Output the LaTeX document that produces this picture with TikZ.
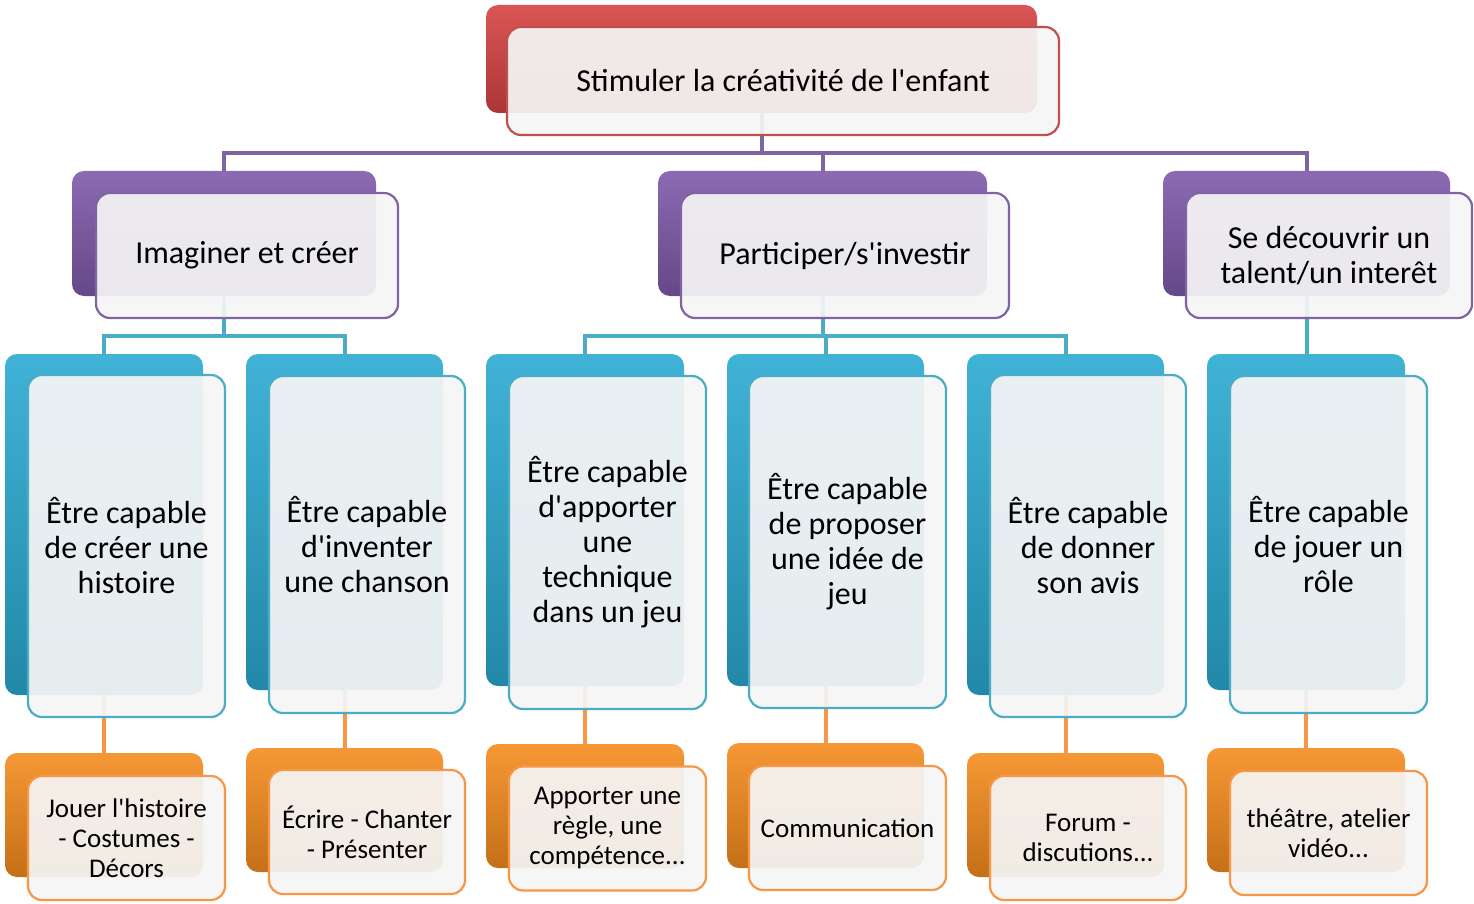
\documentclass[tikz,border=0pt]{standalone}
\usepackage{fontspec}
\setmainfont{Carlito}[Ligatures=TeXOff]
\usetikzlibrary{positioning,backgrounds}

\definecolor{tabred}{HTML}{D64343}
\definecolor{tabpurple}{HTML}{7E5AAA}
\definecolor{tabblue}{HTML}{2BAAD2}
\definecolor{taborange}{HTML}{F58C1E}
\definecolor{linered}{HTML}{C0504D}
\definecolor{linepurple}{HTML}{8064A2}
\definecolor{lineblue}{HTML}{4BACC6}
\definecolor{lineorange}{HTML}{F79646}

\begin{document}
\begin{tikzpicture}[
  x=1pt, y=-1pt,
  backtab/.style={
        rounded corners=12pt,
        inner sep=0pt,
        top color=#1!90!white,
        middle color=#1,
        bottom color=#1!80!black
  },
  card/.style={
        rounded corners=14pt,
        draw=#1,
        line width=2.2pt,
        fill=black!4,
        fill opacity=0.93,
        text opacity=1,
        align=center,
        inner sep=4pt
  },
  link/.style={draw=#1, line width=4pt},
  bigtxt/.style={font=\fontsize{32}{35}\selectfont},
  smalltxt/.style={font=\fontsize{27}{30}\selectfont}
]

    \useasboundingbox (0,0) rectangle (1474,904);

    % top
    \node[backtab=tabred, minimum width=551pt, minimum height=108pt] (root) at (761.5,59) {};
    \node[card=linered, bigtxt, minimum width=552pt, minimum height=108pt] (root-f) at (783,81) {Stimuler la créativité de l'enfant};

    % second row
    \node[backtab=tabpurple, minimum width=304pt, minimum height=125pt] (imag) at (224,233.5) {};
    \node[card=linepurple, bigtxt, minimum width=302pt, minimum height=125pt] (imag-f) at (247,255.5) {Imaginer et créer};
    \node[backtab=tabpurple, minimum width=329pt, minimum height=125pt] (part) at (822.5,233.5) {};
    \node[card=linepurple, bigtxt, minimum width=328pt, minimum height=125pt] (part-f) at (845,255.5) {Participer/s'investir};
    \node[backtab=tabpurple, minimum width=287pt, minimum height=125pt] (talent) at (1306.5,233.5) {};
    \node[card=linepurple, bigtxt, minimum width=286pt, minimum height=125pt] (talent-f) at (1329,255.5) {Se découvrir un\\talent/un interêt};

    % third row
    \node[backtab=tabblue, minimum width=198pt, minimum height=341pt] (ba) at (104,524.5) {};
    \node[card=lineblue, bigtxt, minimum width=197pt, minimum height=342pt] (ba-f) at (126.5,546) {Être capable\\de créer une\\histoire};
    \node[backtab=tabblue, minimum width=197pt, minimum height=336pt] (bb) at (344.5,522) {};
    \node[card=lineblue, bigtxt, minimum width=196pt, minimum height=337pt] (bb-f) at (367,544.5) {Être capable\\d'inventer\\une chanson};
    \node[backtab=tabblue, minimum width=198pt, minimum height=332pt] (bc) at (585,520) {};
    \node[card=lineblue, bigtxt, minimum width=197pt, minimum height=333pt] (bc-f) at (607.5,542.5) {Être capable\\d'apporter\\une\\technique\\dans un jeu};
    \node[backtab=tabblue, minimum width=197pt, minimum height=332pt] (bd) at (825.5,520) {};
    \node[card=lineblue, bigtxt, minimum width=197pt, minimum height=332pt] (bd-f) at (847.5,542) {Être capable\\de proposer\\une idée de\\jeu};
    \node[backtab=tabblue, minimum width=197pt, minimum height=341pt] (be) at (1065.5,524.5) {};
    \node[card=lineblue, bigtxt, minimum width=196pt, minimum height=342pt] (be-f) at (1088,546) {Être capable\\de donner\\son avis};
    \node[backtab=tabblue, minimum width=198pt, minimum height=336pt] (bf) at (1306,522) {};
    \node[card=lineblue, bigtxt, minimum width=197pt, minimum height=337pt] (bf-f) at (1328.5,544.5) {Être capable\\de jouer un\\rôle};

    % bottom row
    \node[backtab=taborange, minimum width=198pt, minimum height=124pt] (oa) at (104,815) {};
    \node[card=lineorange, smalltxt, minimum width=197pt, minimum height=124pt] (oa-f) at (126.5,838) {Jouer l'histoire\\- Costumes -\\Décors};
    \node[backtab=taborange, minimum width=197pt, minimum height=124pt] (ob) at (344.5,810) {};
    \node[card=lineorange, smalltxt, minimum width=196pt, minimum height=124pt] (ob-f) at (367,832) {Écrire - Chanter\\- Présenter};
    \node[backtab=taborange, minimum width=198pt, minimum height=124pt] (oc) at (585,806) {};
    \node[card=lineorange, smalltxt, minimum width=197pt, minimum height=124pt] (oc-f) at (607.5,828.5) {Apporter une\\règle, une\\compétence...};
    \node[backtab=taborange, minimum width=197pt, minimum height=125pt] (od) at (825.5,805.5) {};
    \node[card=lineorange, smalltxt, minimum width=197pt, minimum height=124pt] (od-f) at (847.5,828) {Communication};
    \node[backtab=taborange, minimum width=197pt, minimum height=124pt] (oe) at (1065.5,815) {};
    \node[card=lineorange, smalltxt, minimum width=196pt, minimum height=124pt] (oe-f) at (1088,838) {Forum -\\discutions...};
    \node[backtab=taborange, minimum width=198pt, minimum height=124pt] (of) at (1306,810) {};
    \node[card=lineorange, smalltxt, minimum width=197pt, minimum height=124pt] (of-f) at (1328.5,833) {théâtre, atelier\\vidéo...};

    \begin{pgfonlayer}{background}
    \draw[link=linepurple] (root.south) -- ++(0,40) -| (imag.north);
    \draw[link=linepurple] (root.south) ++(0,40) -| (part.north);
    \draw[link=linepurple] (root.south) ++(0,40) -| (talent.north);

    \draw[link=lineblue] (imag.south) -- ++(0,40) -| (ba.north);
    \draw[link=lineblue] (imag.south) ++(0,40) -| (bb.north);
    \draw[link=lineblue] (part.south) -- ++(0,40) -| (bc.north);
    \draw[link=lineblue] (part.south) ++(0,40) -| (bd.north);
    \draw[link=lineblue] (part.south) ++(0,40) -| (be.north);
    \draw[link=lineblue] (talent.south) -- (talent.south |- bf.north);

    \draw[link=lineorange] (ba.south) -- (ba.south |- oa.north);
    \draw[link=lineorange] (bb.south) -- (bb.south |- ob.north);
    \draw[link=lineorange] (bc.south) -- (bc.south |- oc.north);
    \draw[link=lineorange] (bd.south) -- (bd.south |- od.north);
    \draw[link=lineorange] (be.south) -- (be.south |- oe.north);
    \draw[link=lineorange] (bf.south) -- (bf.south |- of.north);
    \end{pgfonlayer}
\end{tikzpicture}
\end{document}
